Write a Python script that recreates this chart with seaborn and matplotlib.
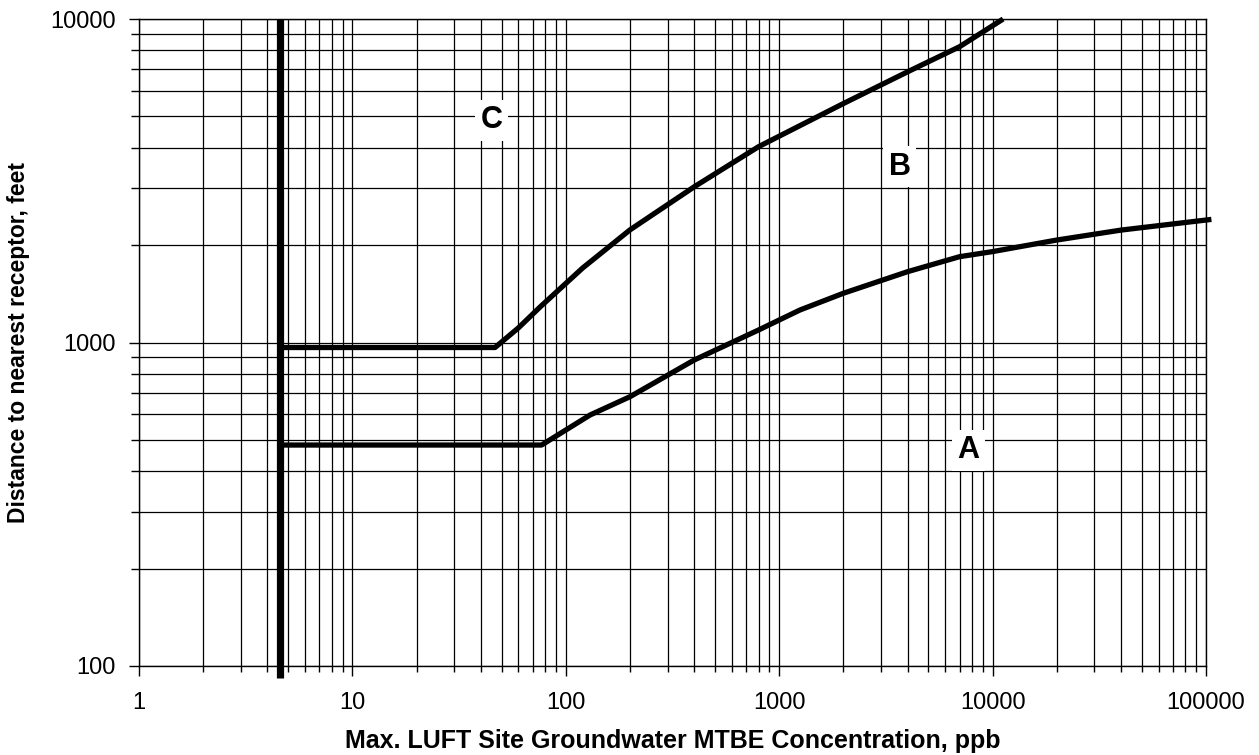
import numpy as np
import pandas as pd
import matplotlib
matplotlib.use("Agg")
import matplotlib.pyplot as plt
import seaborn as sns
from matplotlib.ticker import LogLocator, NullFormatter

# values (log-log chart)
cutoff_x = 4.6  # thick vertical line, ppb

curve_a_x = [4.6, 77, 130, 200, 400, 800, 1250, 2000, 4000, 7000, 10000, 20000, 40000, 106000]
curve_a_y = [482, 482, 597, 680, 883, 1093, 1260, 1420, 1656, 1842, 1910, 2074, 2226, 2402]

curve_b_x = [4.6, 46.6, 60, 76, 120, 200, 400, 800, 2000, 4000, 7000, 11200]
curve_b_y = [965, 965, 1110, 1290, 1700, 2230, 3030, 4030, 5480, 6870, 8210, 10000]

zone_labels = ["C", "B", "A"]
zone_x = [45.1, 3680, 7690]
zone_y = [4870, 3500, 465]

x_ticks = [1, 10, 100, 1000, 10000, 100000]
x_tick_labels = ["1", "10", "100", "1000", "10000", "100000"]
y_ticks = [100, 1000, 10000]
y_tick_labels = ["100", "1000", "10000"]

df = pd.concat([
    pd.DataFrame({"conc": curve_a_x, "dist": curve_a_y, "curve": "A"}),
    pd.DataFrame({"conc": curve_b_x, "dist": curve_b_y, "curve": "B"}),
])

sns.set_style("white")
plt.rcParams["font.family"] = ["Liberation Sans", "DejaVu Sans"]
plt.rcParams["text.color"] = "black"
plt.rcParams["axes.labelcolor"] = "black"
plt.rcParams["xtick.color"] = "black"
plt.rcParams["ytick.color"] = "black"

fig = plt.figure(figsize=(12.59, 7.55), dpi=100)
ax = fig.add_axes([0.1104, 0.1179, 0.8475, 0.8569])
ax.set_xscale("log")
ax.set_yscale("log")
ax.set_xlim(1, 100000)
ax.set_ylim(100, 10000)

# grid: every major and minor decade line
ax.xaxis.set_minor_locator(LogLocator(base=10, subs=np.arange(2, 10)))
ax.yaxis.set_minor_locator(LogLocator(base=10, subs=np.arange(2, 10)))
ax.xaxis.set_minor_formatter(NullFormatter())
ax.yaxis.set_minor_formatter(NullFormatter())
ax.grid(True, which="both", color="black", linewidth=0.9)
ax.set_axisbelow(True)

for curve, sub in df.groupby("curve"):
    sns.lineplot(data=sub, x="conc", y="dist", ax=ax, color="black",
                 linewidth=3.8, estimator=None, sort=False, legend=False,
                 clip_on=False, solid_capstyle="butt")

ax.plot([cutoff_x, cutoff_x], [10000, 92], color="black", linewidth=5.2,
        clip_on=False, solid_capstyle="butt", zorder=5)

for lab, lx, ly in zip(zone_labels, zone_x, zone_y):
    ax.text(lx, ly, lab, fontsize=22, fontweight="bold", ha="center", va="center",
            color="black",
            bbox=dict(facecolor="white", edgecolor="none", pad=4), zorder=6)

ax.set_xticks(x_ticks)
ax.set_xticklabels(x_tick_labels)
ax.set_yticks(y_ticks)
ax.set_yticklabels(y_tick_labels)
ax.tick_params(axis="both", which="major", direction="out", length=7, width=1,
               color="black", labelcolor="black", labelsize=17, bottom=True, left=True)
ax.tick_params(axis="x", which="major", pad=12)
ax.tick_params(axis="y", which="major", pad=10)
ax.tick_params(axis="x", which="minor", direction="out", length=4, width=1,
               color="black", bottom=True)
ax.tick_params(axis="y", which="minor", direction="out", length=6, width=1,
               color="black", left=True)

for s in ax.spines.values():
    s.set_color("black")
    s.set_linewidth(1)

ax.set_xlabel("Max. LUFT Site Groundwater MTBE Concentration, ppb",
              fontsize=18, fontweight="bold", color="black")
ax.set_ylabel("Distance to nearest receptor, feet",
              fontsize=16.5, fontweight="bold", color="black")
ax.xaxis.set_label_coords(0.5, -0.098)
ax.yaxis.set_label_coords(-0.102, 0.5)

fig.savefig("out.png", dpi=100, facecolor="white")
